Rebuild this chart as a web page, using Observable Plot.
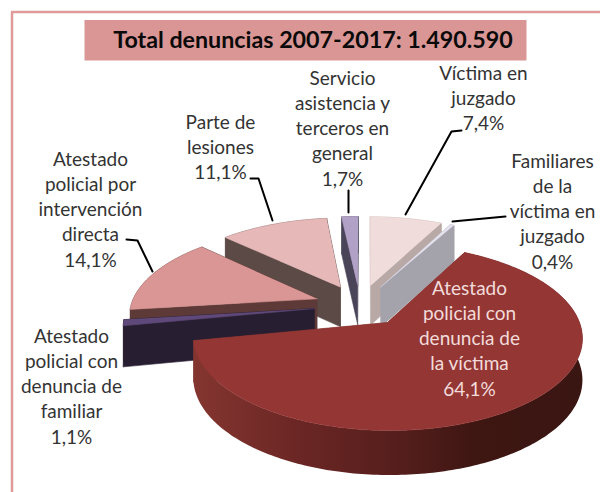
<!doctype html>
<html><head><meta charset="utf-8">
<style>html,body{margin:0;padding:0;background:#fff}svg{display:block}</style>
<script src="https://cdn.jsdelivr.net/npm/d3@7"></script>
<script src="https://cdn.jsdelivr.net/npm/@observablehq/plot@0.6"></script>
</head><body><div id="c"></div>
<script>
// ---- data ----
const categories = ["Parte de lesiones","Servicio asistencia y terceros en general","Víctima en juzgado","Familiares de la víctima en juzgado","Atestado policial por intervención directa","Atestado policial con denuncia de familiar","Atestado policial con denuncia de la víctima"];
const clockwise = ["Víctima en juzgado","Familiares de la víctima en juzgado","Atestado policial con denuncia de la víctima","Atestado policial con denuncia de familiar","Atestado policial por intervención directa","Parte de lesiones","Servicio asistencia y terceros en general"];
const shares = [7.4,0.4,64.1,1.1,14.1,11.1,1.7];
const topColors  = ["#f0dcda","#e4e0ee","#943634","#5f497a","#d99694","#e6b9b8","#b2a1c7"];
const sideColors = ["#b9a9a6","#a4a3ab","#7f3530","#281e32","#5d3a38","#5c4a46","#4a4458"];
const titleText = "Total denuncias 2007-2017: 1.490.590";
const labelLines = [
 {lines:["Víctima en","juzgado","7,4%"],cx:483,y:73},
 {lines:["Familiares","de la","víctima en","juzgado","0,4%"],cx:552,y:161},
 {lines:["Servicio","asistencia y","terceros en","general","1,7%"],cx:342,y:78},
 {lines:["Parte de","lesiones","11,1%"],cx:220,y:122},
 {lines:["Atestado","policial por","intervención","directa","14,1%"],cx:90,y:159},
 {lines:["Atestado","policial con","denuncia de","familiar","1,1%"],cx:71,y:336},
 {lines:["Atestado","policial con","denuncia de","la víctima","64,1%"],cx:469,y:288,fill:"#f2dcdb"}
];
const leaders = [
 [[405,214],[451,131],[461,130]],
 [[452,221],[505,216]],
 [[348,212],[348,190]],
 [[272,220],[258,178],[250,178]],
 [[152,271],[137,240],[126,239]]
];
// ---- layout ----
const W=600,H=492, ox=387, oy=322, bx=192, by=90.6, persp=.161, explode=.245, thick=41/90.6, shear=.012;
const cu=-.595*explode, cv=.804*explode, rad=Math.PI/180;
const ux=p=>(p-ox)/bx, uy=p=>(oy-p)/by;
const proj=(u,v)=>[u/(1+persp*v)-shear*v, v/(1+persp*v)];
let acc=0;
const slices=clockwise.map((name,i)=>{const a0=acc*3.6;acc+=shares[i];return {name,a0,a1:acc*3.6,top:topColors[i],side:sideColors[i]};});
const polys=[], mainRim=[], mainTop=[];
let pid=0;
function add(pts,color,to=polys){const id=pid++;for(const [x,y] of pts)to.push({id,x,y,color});}
function pt(s,a,down){
  const mid=(s.a0+s.a1)/2*rad;
  const U=cu+explode*Math.sin(mid)+(a==null?0:Math.sin(a*rad));
  const V=cv+explode*Math.cos(mid)+(a==null?0:Math.cos(a*rad));
  const [x,y]=proj(U,V);
  return [x, down? y-thick/(1+.08*V):y];
}
for(const name of categories){
  const s=slices.find(d=>d.name===name);
  const main=s.a1-s.a0>100;
  add([pt(s,null),pt(s,s.a0),pt(s,s.a0,1),pt(s,null,1)],s.side);
  add([pt(s,null),pt(s,s.a1),pt(s,s.a1,1),pt(s,null,1)],s.side);
  const as=[];
  for(let a=s.a0;a<s.a1;a+=1)as.push(a);
  as.push(s.a1);
  const rim=[...as.map(a=>pt(s,a)),...as.slice().reverse().map(a=>pt(s,a,1))];
  add(rim,s.side,main?mainRim:polys);
  add([pt(s,null),...as.map(a=>pt(s,a))],s.top,main?mainTop:polys);
}
const rimStops=[[0,"#843530"],[.28,"#6a2624"],[.54,"#541e1c"],[.72,"#3e1612"],[1,"#3a1612"]];
function rimGradient(){
  const defs=d3.create("svg:defs");
  const g=defs.append("linearGradient").attr("id","rim").attr("x1",0).attr("x2",1).attr("y1",0).attr("y2",0);
  for(const [o,c] of rimStops)g.append("stop").attr("offset",o).attr("stop-color",c);
  return defs.node();
}
const leaderRows=leaders.flatMap((l,i)=>l.map(p=>({i,x:ux(p[0]),y:uy(p[1])})));
const textRows=labelLines.flatMap(l=>l.lines.map((t,j)=>({t,x:ux(l.cx),y:uy(l.y+j*25.3),fill:l.fill||"#333"})));
const frame=[[11.5,492],[11.5,11.5],[600,11.5]].map(p=>({x:ux(p[0]),y:uy(p[1])}));
const tb=[[84,19.5],[526,19.5],[526,60],[84,60]].map(p=>({x:ux(p[0]),y:uy(p[1])}));

const plot=Plot.plot({
  width:W,height:H,margin:0,
  style:{background:"#fff"},
  x:{domain:[ux(0),ux(W)],range:[0,W],axis:null},
  y:{domain:[uy(H),uy(0)],range:[H,0],axis:null},
  marks:[
    rimGradient,
    Plot.line(frame,{x:"x",y:"y",stroke:"#e09a9a",strokeWidth:2.5}),
    Plot.line(tb,{x:"x",y:"y",fill:"#d99694",stroke:"none"}),
    Plot.text([titleText],{x:ux(312.5),y:uy(40),text:d=>d,fontSize:23.25,fontWeight:700,fontFamily:"Lato",fill:"#0a0a0a"}),
    Plot.line(polys,{x:"x",y:"y",z:"id",fill:"color",stroke:"color",strokeWidth:.6}),
    Plot.line(mainRim,{x:"x",y:"y",z:"id",fill:"url(#rim)",stroke:"none"}),
    Plot.line(mainTop,{x:"x",y:"y",z:"id",fill:"color",stroke:"color",strokeWidth:.6}),
    Plot.line(leaderRows,{x:"x",y:"y",z:"i",stroke:"#000",strokeWidth:2}),
    Plot.text(textRows,{x:"x",y:"y",text:"t",fill:"fill",fontSize:19,fontFamily:"Lato"})
  ]
});
document.getElementById("c").append(plot);
</script></body></html>
